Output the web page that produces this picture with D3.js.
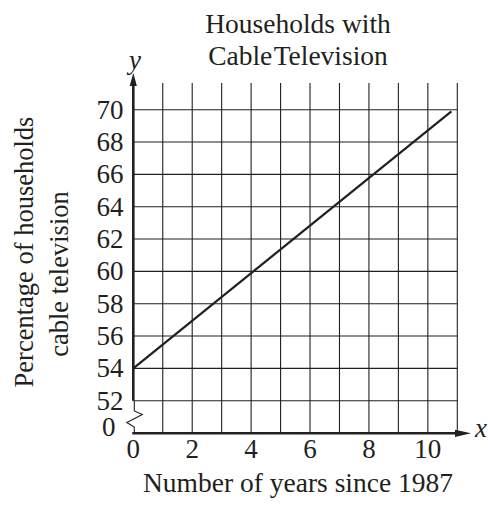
<!DOCTYPE html>
<html><head><meta charset="utf-8">
<script src="https://cdn.jsdelivr.net/npm/d3@7"></script>
<style>
html,body{margin:0;padding:0;background:#fff;}
text{font-family:"Liberation Serif","Times New Roman",serif;fill:#231f20;}
</style></head>
<body><svg id="c" width="488" height="506"></svg>
<script>
const titleLines = ["Households with", "Cable Television"];
const xTitle = "Number of years since 1987";
const yTitleLines = ["Percentage of households", "cable television"];
const xTicks = [0, 2, 4, 6, 8, 10];
const yTicks = [52, 54, 56, 58, 60, 62, 64, 66, 68, 70];
const xGrid = [1, 2, 3, 4, 5, 6, 7, 8, 9, 10, 11];
const lineYears = [0, 10.8];
const linePercent = [54, 69.9];
const xDomain = [0, 11];
const yDomain = [52, 71.65];

const ink = "#231f20";
const svg = d3.select("#c");
const x = d3.scaleLinear().domain(xDomain).range([133.3, 457.3]);
const y = d3.scaleLinear().domain(yDomain).range([400.7, 83]);
const baseY = 433.3;

// vertical grid lines
svg.append("g").selectAll("line").data(xGrid).join("line")
  .attr("x1", d => x(d)).attr("x2", d => x(d))
  .attr("y1", y(yDomain[1])).attr("y2", baseY)
  .attr("stroke", ink).attr("stroke-width", 1.1);
// horizontal grid lines
svg.append("g").selectAll("line").data(yTicks).join("line")
  .attr("x1", x(0)).attr("x2", x(11))
  .attr("y1", d => y(d)).attr("y2", d => y(d))
  .attr("stroke", ink).attr("stroke-width", 1.1);

// y axis thick
svg.append("line").attr("x1", x(0)).attr("x2", x(0))
  .attr("y1", 80).attr("y2", y(52)).attr("stroke", ink).attr("stroke-width", 2.6);
// y arrow
svg.append("path").attr("d", `M${x(0)},73 L${x(0)-3.6},86 L${x(0)+3.6},86 Z`).attr("fill", ink);
// break zigzag
const bx = x(0);
svg.append("path")
  .attr("d", `M${bx+1},${y(52)} L${bx+1},411 L${bx+9},414.5 L${bx-6.5},422.5 L${bx+1},427 L${bx+1},${baseY}`)
  .attr("fill", "none").attr("stroke", ink).attr("stroke-width", 1.1);
// x axis thick
svg.append("line").attr("x1", x(0)-1).attr("x2", 458)
  .attr("y1", baseY).attr("y2", baseY).attr("stroke", ink).attr("stroke-width", 2.6);
svg.append("path").attr("d", `M471,${baseY} L455,${baseY-3.6} L455,${baseY+3.6} Z`).attr("fill", ink);

// data line
const ln = d3.line().x(d => x(d[0])).y(d => y(d[1]));
svg.append("path").datum(lineYears.map((v, i) => [v, linePercent[i]]))
  .attr("d", ln).attr("fill", "none").attr("stroke", ink).attr("stroke-width", 2.2);

// tick labels
const fs = 27;
svg.append("g").selectAll("text").data(yTicks).join("text")
  .attr("x", 123.5).attr("y", d => y(d)).attr("dy", "0.33em")
  .attr("text-anchor", "end").attr("font-size", fs).text(d => d);
svg.append("text").attr("x", 115.5).attr("y", 436).attr("text-anchor", "end")
  .attr("font-size", fs).text("0");
svg.append("g").selectAll("text").data(xTicks).join("text")
  .attr("x", d => x(d)).attr("y", 457.5).attr("text-anchor", "middle")
  .attr("font-size", fs).text(d => d);

// axis letters
svg.append("text").attr("x", 135).attr("y", 69).attr("text-anchor", "middle")
  .attr("font-size", fs).attr("font-style", "italic").text("y");
svg.append("text").attr("x", 481).attr("y", 437).attr("text-anchor", "middle")
  .attr("font-size", fs).attr("font-style", "italic").text("x");

// titles
svg.append("g").selectAll("text").data(titleLines).join("text")
  .attr("x", 298).attr("y", (d, i) => 33 + i * 32)
  .attr("text-anchor", "middle").attr("font-size", 27.5)
  .attr("word-spacing", (d, i) => i === 1 ? -5 : 0).text(d => d);
svg.append("text").attr("x", 298).attr("y", 491.5).attr("text-anchor", "middle")
  .attr("font-size", 27.5).text(xTitle);
const yCenters = [252, 274];
const yBase = [33, 67.5];
yTitleLines.forEach((t, i) => {
  svg.append("text").attr("transform", `translate(${yBase[i]},${yCenters[i]}) rotate(-90)`)
    .attr("text-anchor", "middle").attr("font-size", 26.5).text(t);
});
</script></body></html>
